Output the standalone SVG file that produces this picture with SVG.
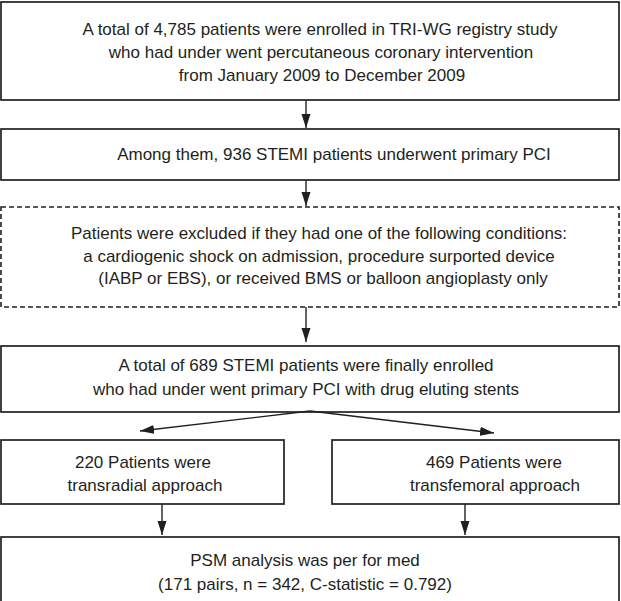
<svg xmlns="http://www.w3.org/2000/svg" width="621" height="601" viewBox="0 0 621 601">
<style>
.box{fill:#fff;stroke:#231f20;stroke-width:1.7}
.dash{fill:#fff;stroke:#231f20;stroke-width:1.6;stroke-dasharray:5 3}
.t{font-family:"Liberation Sans",Arial,sans-serif;font-size:17px;fill:#231f20;text-anchor:middle}
.c{stroke:#231f20;stroke-width:1.4;fill:none}
</style>
<defs>
<marker id="ah" viewBox="0 0 14 10" refX="14" refY="5" markerWidth="14" markerHeight="10" markerUnits="userSpaceOnUse" orient="auto">
<path d="M0,0.5 L14,5 L0,9.5 Z" fill="#231f20"/>
</marker>
</defs>
<rect width="621" height="601" fill="#fff"/>
<g id="n1">
<rect class="box" x="1" y="2" width="618" height="98"/>
<text class="t" x="320" y="35">A total of 4,785 patients were enrolled in TRI-WG registry study</text>
<text class="t" x="321" y="58">who had under went percutaneous coronary intervention</text>
<text class="t" x="322" y="81">from January 2009 to December 2009</text>
</g>
<g id="n2">
<rect class="box" x="1" y="129" width="618" height="51"/>
<text class="t" x="334" y="160">Among them, 936 STEMI patients underwent primary PCI</text>
</g>
<g id="n3">
<rect class="dash" x="1" y="207" width="618" height="100"/>
<text class="t" x="319" y="239">Patients were excluded if they had one of the following conditions:</text>
<text class="t" x="319" y="262">a cardiogenic shock on admission, procedure surported device</text>
<text class="t" x="323" y="284">(IABP or EBS), or received BMS or balloon angioplasty only</text>
</g>
<g id="n4">
<rect class="box" x="1" y="346" width="618" height="66"/>
<text class="t" x="306" y="371">A total of 689 STEMI patients were finally enrolled</text>
<text class="t" x="306" y="395">who had under went primary PCI with drug eluting stents</text>
</g>
<g id="n5">
<rect class="box" x="1" y="440" width="283" height="64"/>
<text class="t" x="143" y="468">220 Patients were</text>
<text class="t" x="145" y="491">transradial approach</text>
</g>
<g id="n6">
<rect class="box" x="332" y="440" width="287" height="64"/>
<text class="t" x="494" y="468">469 Patients were</text>
<text class="t" x="495" y="491">transfemoral approach</text>
</g>
<g id="n7">
<rect class="box" x="1" y="537" width="618" height="75"/>
<text class="t" x="305" y="566">PSM analysis was per for med</text>
<text class="t" x="305" y="590">(171 pairs, n = 342, C-statistic = 0.792)</text>
</g>
<g id="connectors">
<line class="c" x1="306" y1="100" x2="306" y2="128" marker-end="url(#ah)"/>
<line class="c" x1="306" y1="180" x2="306" y2="206" marker-end="url(#ah)"/>
<line class="c" x1="306" y1="307" x2="306" y2="342" marker-end="url(#ah)"/>
<line class="c" x1="310" y1="411" x2="140" y2="431" marker-end="url(#ah)"/>
<line class="c" x1="310" y1="411" x2="494" y2="433" marker-end="url(#ah)"/>
<line class="c" x1="162" y1="504" x2="162" y2="535" marker-end="url(#ah)"/>
<line class="c" x1="465" y1="504" x2="465" y2="535" marker-end="url(#ah)"/>
</g>
</svg>
